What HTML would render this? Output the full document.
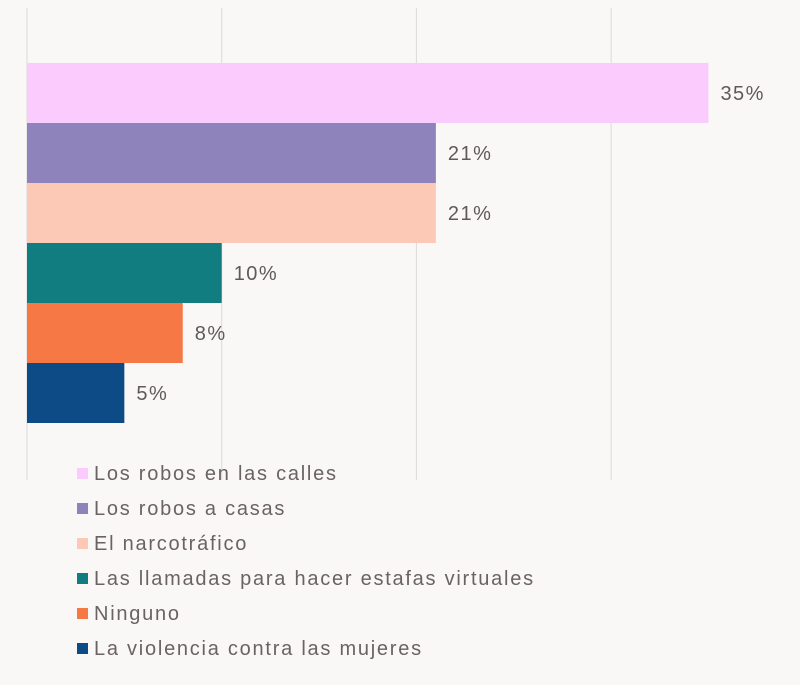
<!DOCTYPE html>
<html><head><meta charset="utf-8"><style>
html,body{margin:0;padding:0;background:#f9f8f7;}
svg{display:block;font-family:"Liberation Sans",sans-serif;}
</style></head><body>
<svg id="chart" width="800" height="685"></svg>
<script>
const categories=["Los robos en las calles","Los robos a casas","El narcotráfico","Las llamadas para hacer estafas virtuales","Ninguno","La violencia contra las mujeres"];
const values=[35,21,21,10,8,5];
const colors=["#fccbfd","#8e83bb","#fcc9b6","#127d80","#f67844","#0d4b86"];
const gridTicks=[0,10,20,30];
const NS="http://www.w3.org/2000/svg";
const svg=document.getElementById('chart');
const x0=27,k=19.47;
const xs=v=>x0+v*k;
const barTop=63,barH=60;
const ys=i=>barTop+i*barH;
function mk(t,a){const e=document.createElementNS(NS,t);for(const n in a)e.setAttribute(n,a[n]);svg.appendChild(e);return e;}
gridTicks.forEach(t=>{
  const l=mk('line',{x1:xs(t),x2:xs(t),y1:8,y2:480,stroke:'#dcdad8','stroke-width':1});
  
  
});
values.forEach((v,i)=>{
  const r=mk('rect',{x:x0,y:ys(i),width:xs(v)-x0,height:barH,fill:colors[i]});
  
  
  const t=mk('text',{x:xs(v)+12,y:ys(i)+barH/2+7,'font-size':20,fill:'#5f5a58','letter-spacing':1.5});
  t.textContent=v+'%';
  
  
});
categories.forEach((c,i)=>{
  const y=473+i*35;
  const s=mk('rect',{x:77,y:y-5,width:11,height:11,fill:colors[i]});
  
  
  const t=mk('text',{x:94,y:y+7,'font-size':20,fill:'#6a6361','letter-spacing':1.75});
  t.textContent=c;
  
  
});
</script>
</body></html>
